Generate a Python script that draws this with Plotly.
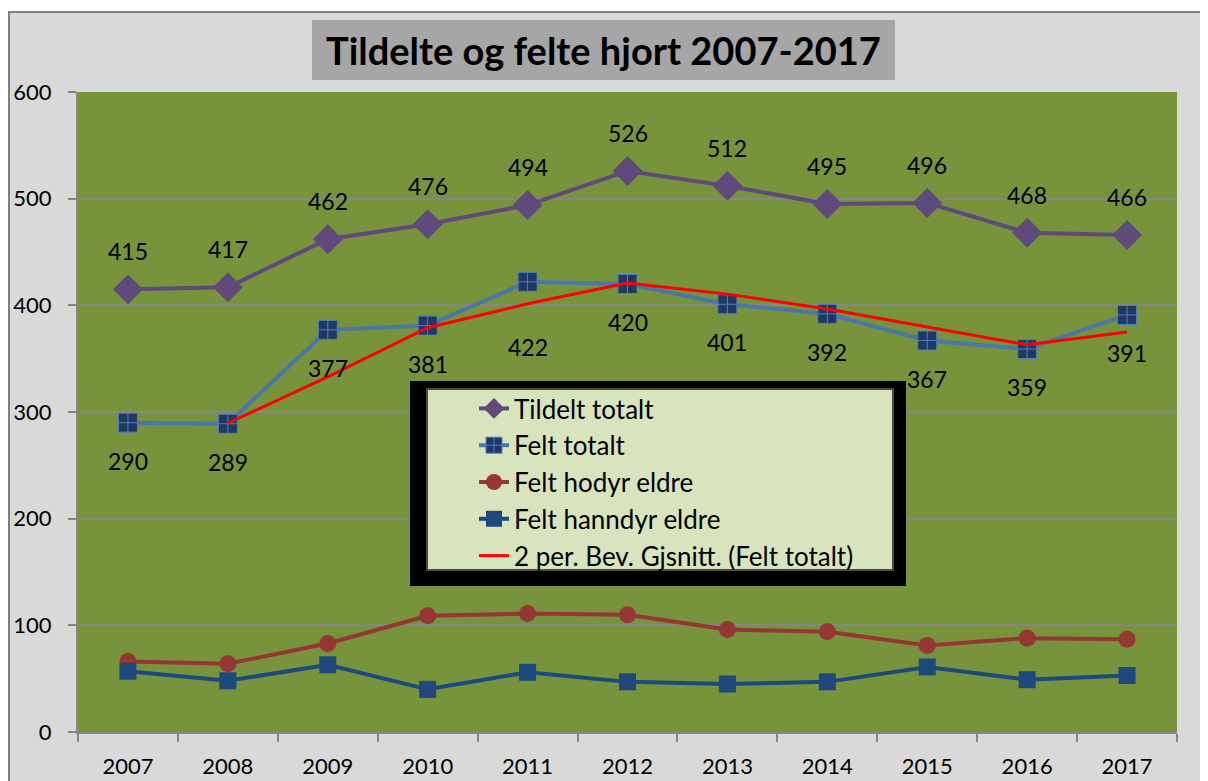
import plotly.graph_objects as go

# Data
years = ['2007', '2008', '2009', '2010', '2011', '2012', '2013', '2014', '2015', '2016', '2017']
tildelt_totalt = [415, 417, 462, 476, 494, 526, 512, 495, 496, 468, 466]
felt_totalt = [290, 289, 377, 381, 422, 420, 401, 392, 367, 359, 391]
felt_hodyr_eldre = [66, 64, 83, 109, 111, 110, 96, 94, 81, 88, 87]
felt_hanndyr_eldre = [57, 48, 63, 40, 56, 47, 45, 47, 61, 49, 53]
# 2 period moving average of Felt totalt (starts 2008)
glid_snitt_years = years[1:]
glid_snitt = [289.5, 333, 379, 401.5, 421, 410.5, 396.5, 379.5, 363, 375]

# page body has an 8px margin, so the figure is 8px smaller than the window
OFF = 8
W, H = 1208 - OFF, 781 - OFF
L, R, T, B = 78 - OFF, 1177 - OFF, 92 - OFF, 732 - OFF
FONT = 'Lato, Calibri, Carlito, sans-serif'


# convert screenshot pixel positions to paper coordinates
def px(x):
    return (x - OFF - L) / (R - L)


def py(y):
    return (B - (y - OFF)) / (B - T)


fig = go.Figure()

fig.add_trace(go.Scatter(
    x=years, y=tildelt_totalt, mode='lines+markers', name='Tildelt totalt',
    line=dict(color='#604a7b', width=4),
    marker=dict(symbol='diamond', size=23, color='#604a7b')))
fig.add_trace(go.Scatter(
    x=years, y=felt_totalt, mode='lines+markers', name='Felt totalt',
    line=dict(color='#4a76a8', width=4),
    marker=dict(symbol='square-cross', size=19, color='#1f3864',
                line=dict(color='#4f81bd', width=1))))
fig.add_trace(go.Scatter(
    x=years, y=felt_hodyr_eldre, mode='lines+markers', name='Felt hodyr eldre',
    line=dict(color='#953735', width=4),
    marker=dict(symbol='circle', size=17, color='#953735')))
fig.add_trace(go.Scatter(
    x=years, y=felt_hanndyr_eldre, mode='lines+markers', name='Felt hanndyr eldre',
    line=dict(color='#1f497d', width=4),
    marker=dict(symbol='square', size=17, color='#1f497d')))
fig.add_trace(go.Scatter(
    x=glid_snitt_years, y=glid_snitt, mode='lines', name='2 per. Bev. Gjsnitt. (Felt totalt)',
    line=dict(color='#ff0000', width=3)))

# data labels (category axis -> annotations use category index)
annotations = []
for i, v in enumerate(tildelt_totalt):
    annotations.append(dict(x=i, y=v, text=str(v), showarrow=False, yshift=38,
                            font=dict(size=23, color='black', family=FONT)))
for i, v in enumerate(felt_totalt):
    shift = -65 if years[i] == '2011' else -38
    annotations.append(dict(x=i, y=v, text=str(v), showarrow=False, yshift=shift,
                            font=dict(size=23, color='black', family=FONT)))

# title
annotations.append(dict(xref='paper', yref='paper', x=px(603), y=py(50),
                        xanchor='center', yanchor='middle',
                        text='<b>Tildelte og felte hjort 2007-2017</b>', showarrow=False,
                        font=dict(size=38, color='black', family=FONT)))

shapes = [
    # white strip on top and outer border
    dict(type='rect', xref='paper', yref='paper', x0=px(0), x1=px(1208), y0=py(0), y1=py(12),
         fillcolor='white', line=dict(width=0), layer='below'),
    dict(type='line', xref='paper', yref='paper', x0=px(8), x1=px(1208), y0=py(12), y1=py(12),
         line=dict(color='#808080', width=2)),
    dict(type='line', xref='paper', yref='paper', x0=px(9), x1=px(9), y0=py(12), y1=py(781),
         line=dict(color='#808080', width=2)),
    # title box
    dict(type='rect', xref='paper', yref='paper', x0=px(312), x1=px(895), y0=py(20), y1=py(80),
         fillcolor='#a6a6a6', line=dict(width=0), layer='below'),
    # legend boxes
    dict(type='rect', xref='paper', yref='paper', x0=px(410), x1=px(906), y0=py(381), y1=py(586),
         fillcolor='black', line=dict(width=0), layer='above'),
    dict(type='rect', xref='paper', yref='paper', x0=px(427), x1=px(893), y0=py(389), y1=py(570),
         fillcolor='#d7e4bd', line=dict(color='#4d4d33', width=2), layer='above'),
]

fig.update_layout(
    width=W, height=H,
    margin=dict(l=L, r=W - R, t=T, b=H - B, autoexpand=False),
    paper_bgcolor='#d9d9d9',
    plot_bgcolor='#77933c',
    font=dict(family=FONT, size=22, color='black'),
    showlegend=True,
    legend=dict(x=px(474), y=py(385), xanchor='left', yanchor='top',
                bgcolor='rgba(0,0,0,0)', borderwidth=0,
                font=dict(size=26, family=FONT, color='black'), itemsizing='trace'),
    annotations=annotations,
    shapes=shapes,
)

fig.update_xaxes(
    type='category', range=[-0.5, 10.5], showgrid=False, automargin=False,
    showline=True, linecolor='#868686', linewidth=2,
    ticks='outside', tickson='boundaries', ticklen=8, tickcolor='#868686', tickwidth=2,
    ticklabelstandoff=14, tickfont=dict(size=22, family=FONT, color='black'),
)
fig.update_yaxes(
    range=[0, 600], dtick=100, showgrid=True, gridcolor='#868686', gridwidth=2,
    automargin=False,
    showline=True, linecolor='#868686', linewidth=2, zeroline=False,
    ticks='outside', ticklen=8, tickcolor='#868686', tickwidth=2,
    ticklabelstandoff=12, tickfont=dict(size=22, family=FONT, color='black'),
)

fig.write_html("out.html")
